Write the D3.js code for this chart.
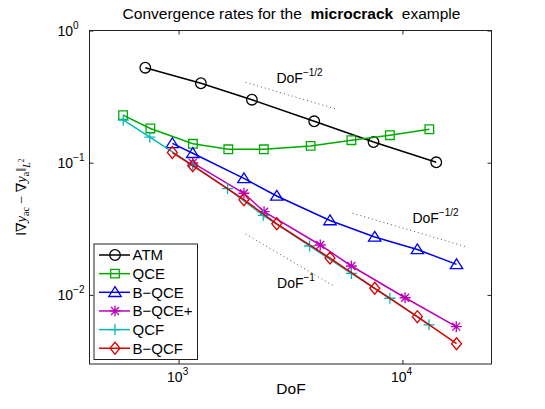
<!DOCTYPE html>
<html><head><meta charset="utf-8">
<script src="https://cdn.jsdelivr.net/npm/d3@7"></script>
<style>body{margin:0;background:#fff}svg{display:block}text{font-family:"Liberation Sans",Arial,sans-serif}</style>
</head><body><svg id="c" width="545" height="409"></svg>
<script>
// ---- data ----
const atmDof   = [710, 1258, 2126, 4036, 7430, 14160];
const atmErr   = [0.523, 0.399, 0.2996, 0.2056, 0.1434, 0.1007];
const qceDof   = [565, 748, 1159, 1668, 2404, 3890, 5915, 8790, 13190];
const qceErr   = [0.2288, 0.1815, 0.139, 0.1263, 0.1263, 0.134, 0.148, 0.1614, 0.179];
const bqceDof  = [938, 1157, 1958, 2746, 4746, 7520, 11660, 17450];
const bqceErr  = [0.140, 0.1178, 0.0760, 0.0560, 0.0365, 0.0274, 0.02205, 0.0170];
const bqcepDof = [1157, 1958, 2409, 4295, 5915, 10280, 17400];
const bqcepErr = [0.0995, 0.0587, 0.0426, 0.02385, 0.01654, 0.00951, 0.00575];
const qcfDof   = [566, 744, 1157, 1655, 2389, 3848, 5915, 8790, 13145];
const qcfErr   = [0.2104, 0.156, 0.096, 0.0637, 0.0400, 0.02344, 0.01452, 0.00943, 0.00594];
const bqcfDof  = [938, 1157, 1958, 2746, 4746, 7520, 11660, 17450];
const bqcfErr  = [0.1194, 0.0949, 0.0525, 0.0345, 0.0190, 0.01122, 0.00684, 0.00427];

const seriesNames = ["ATM", "QCE", "B\u2212QCE", "B\u2212QCE+", "QCF", "B\u2212QCF"];
const seriesColors = ["#000000", "#00aa00", "#0000ee", "#bb00bb", "#00b8b8", "#dd0000"];
const seriesMarkers = ["circle", "square", "triangle", "asterisk", "plus", "diamond"];

// reference slopes: [x0, x1, y0, exponent]
const refX0 = [1993, 5995, 1993];
const refX1 = [5022, 19450, 4920];
const refY0 = [0.4056, 0.04143, 0.02889];
const refExp = [-0.5, -0.5, -1];
const refLabelX = [2737, 11080, 2754];
const refLabelY = [0.3987, 0.03516, 0.01134];
const refLabelSup = ["\u22121/2", "\u22121/2", "\u22121"];

const xTicks = [1e3, 1e4];
const xTickExp = ["3", "4"];
const yTicks = [1, 0.1, 0.01];
const yTickExp = ["0", "\u22121", "\u22122"];

// ---- scales ----
const L = 89.5, R = 491.5, T = 30.5, B = 364;
const x = d3.scaleLog().domain([400, 25000]).range([L, R]);
const y = d3.scaleLog().domain([0.003, 1]).range([B, T]);

const svg = d3.select("#c");
svg.append("defs").append("clipPath").attr("id","pc").append("rect")
  .attr("x", L).attr("y", T).attr("width", R-L).attr("height", B-T);

function markerPath(type) {
  switch (type) {
    case "circle": return d3.symbol(d3.symbolCircle, Math.PI*5.3*5.3)();
    case "square": return "M-4.3,-4.3H4.3V4.3H-4.3Z";
    case "triangle": return "M0,-5.6L6.2,4.2H-6.2Z";
    case "diamond": return "M0,-6L5,0L0,6L-5,0Z";
    case "plus": return "M-5.5,0H5.5M0,-5.5V5.5";
    case "asterisk": return "M-5.5,0H5.5M0,-5.5V5.5M-4,-4L4,4M-4,4L4,-4";
  }
}

// ---- axes frame & ticks ----
const g = svg.append("g");
g.append("rect").attr("x", L).attr("y", T).attr("width", R-L).attr("height", B-T)
  .attr("fill","none").attr("stroke","#222").attr("stroke-width",1);

const axB = d3.axisBottom(x).tickValues(xTicks).tickSize(-4).tickFormat("");
const axT = d3.axisTop(x).tickValues(xTicks).tickSize(-4).tickFormat("");
const axLf = d3.axisLeft(y).tickValues(yTicks).tickSize(-4).tickFormat("");
const axRt = d3.axisRight(y).tickValues(yTicks).tickSize(-4).tickFormat("");
[[axB,`translate(0,${B})`],[axT,`translate(0,${T})`],[axLf,`translate(${L},0)`],[axRt,`translate(${R},0)`]].forEach(([a,tr])=>{
  const gg = g.append("g").attr("transform", tr).call(a);
  gg.select(".domain").remove();
  gg.selectAll("line").attr("stroke","#222");
});

// x tick labels
xTicks.forEach((v,i)=>{
  const t = svg.append("text").attr("x", x(v)-11.5).attr("y", 382).attr("font-size",14).attr("fill","#000");
  t.append("tspan").text("10");
  t.append("tspan").attr("dy",-7).attr("font-size",10).text(xTickExp[i]);
});
// y tick labels
yTicks.forEach((v,i)=>{
  const t = svg.append("text").attr("x", 57.5).attr("y", y(v)+5.5).attr("font-size",14).attr("fill","#000");
  t.append("tspan").text("10");
  t.append("tspan").attr("dy",-7).attr("font-size",10).text(yTickExp[i]);
});

// axis labels
svg.append("text").attr("x", 291).attr("y", 394).attr("text-anchor","middle").attr("font-size",15.5).text("DoF");

const yl = svg.append("text").attr("transform", `translate(26,${(T+B)/2}) rotate(-90)`)
  .attr("text-anchor","middle").attr("font-size",14)
  .style("font-family","'Liberation Serif','DejaVu Serif',serif");
yl.append("tspan").text("\u2016\u2207");
yl.append("tspan").attr("font-style","italic").text("y");
yl.append("tspan").attr("font-size",10).attr("dy",3).text("ac");
yl.append("tspan").attr("dy",-3).text(" \u2212 \u2207");
yl.append("tspan").attr("font-style","italic").text("y");
yl.append("tspan").attr("font-size",10).attr("dy",3).text("a");
yl.append("tspan").attr("dy",-3).text("\u2016");
yl.append("tspan").attr("font-size",10).attr("font-style","italic").attr("dy",4).text("L");
yl.append("tspan").attr("font-size",7.5).attr("dy",-6).text("2");

// title
const tt = svg.append("text").attr("x", 291.5).attr("y", 18.5).attr("text-anchor","middle").attr("font-size",15.5).attr("xml:space","preserve");
tt.append("tspan").text("Convergence rates for the  ");
tt.append("tspan").attr("font-weight","bold").text("microcrack");
tt.append("tspan").text("  example");

// reference slope lines
const plot = svg.append("g").attr("clip-path","url(#pc)");
refX0.forEach((x0,i)=>{
  const x1 = refX1[i], y0 = refY0[i], y1 = y0*Math.pow(x1/x0, refExp[i]);
  plot.append("line").attr("x1",x(x0)).attr("y1",y(y0)).attr("x2",x(x1)).attr("y2",y(y1))
    .attr("stroke","#555").attr("stroke-width",1).attr("stroke-dasharray","1 3");
  const t = svg.append("text").attr("x", x(refLabelX[i])).attr("y", y(refLabelY[i])).attr("font-size",14);
  t.append("tspan").text("DoF");
  t.append("tspan").attr("dy",-7).attr("font-size",10).text(refLabelSup[i]);
});

// series
const allDof = [atmDof, qceDof, bqceDof, bqcepDof, qcfDof, bqcfDof];
const allErr = [atmErr, qceErr, bqceErr, bqcepErr, qcfErr, bqcfErr];
const line = d3.line().x(d=>x(d[0])).y(d=>y(d[1]));
allDof.forEach((dof,i)=>{
  const pts = dof.map((d,j)=>[d, allErr[i][j]]);
  const gs = plot.append("g");
  gs.append("path").attr("d", line(pts)).attr("fill","none").attr("stroke",seriesColors[i]).attr("stroke-width",1.5);
  gs.selectAll("path.m").data(pts).enter().append("path").attr("class","m")
    .attr("d", markerPath(seriesMarkers[i]))
    .attr("transform", d=>`translate(${x(d[0])},${y(d[1])})`)
    .attr("fill","none").attr("stroke",seriesColors[i]).attr("stroke-width",1.3);
});

// legend
const lg = svg.append("g");
lg.append("rect").attr("x",94).attr("y",244).attr("width",103.5).attr("height",115.5)
  .attr("fill","#fff").attr("stroke","#222").attr("stroke-width",1);
seriesNames.forEach((n,i)=>{
  const yy = 255 + i*18.65;
  lg.append("line").attr("x1",99).attr("x2",130).attr("y1",yy).attr("y2",yy)
    .attr("stroke",seriesColors[i]).attr("stroke-width",1.5);
  lg.append("path").attr("d", markerPath(seriesMarkers[i])).attr("transform",`translate(115,${yy})`)
    .attr("fill","none").attr("stroke",seriesColors[i]).attr("stroke-width",1.3);
  lg.append("text").attr("x",132.5).attr("y",yy+5.3).attr("font-size",15).text(n);
});
</script></body></html>
